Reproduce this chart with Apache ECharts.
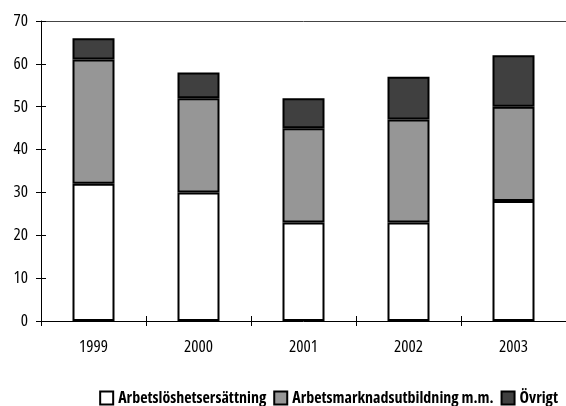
<!DOCTYPE html>
<html>
<head>
<meta charset="utf-8">
<script src="https://cdn.jsdelivr.net/npm/echarts@6/dist/echarts.min.js"></script>
<style>
  html, body { margin: 0; padding: 0; background: #fff; }
  #chart { width: 566px; height: 406px; }
</style>
</head>
<body>
<div id="chart"></div>
<script>
// Years on the category axis
const years = ['1999', '2000', '2001', '2002', '2003'];

// Stacked components per year
const arbetsloshet = [32, 30, 23, 23, 28];
const arbetsmarknad = [29, 22, 22, 24, 22];
const ovrigt = [5, 6, 7, 10, 12];

const seriesNames = ['Arbetslöshetsersättning', 'Arbetsmarknadsutbildning m.m.', 'Övrigt'];
const seriesColors = ['#ffffff', '#969696', '#404040'];
const seriesData = [arbetsloshet, arbetsmarknad, ovrigt];

// Narrow face: the font-stretch keyword rides along in the weight slot of the canvas font string
const textFont = '"Open Sans", sans-serif';

const chart = echarts.init(document.getElementById('chart'), null, { renderer: 'canvas' });

const yBase = { type: 'value', min: 0, max: 70, interval: 10, splitLine: { show: false } };
const xBase = { type: 'category', data: years, boundaryGap: true };

chart.setOption({
  animation: false,
  backgroundColor: '#ffffff',
  grid: { left: 41, right: 0, top: 21, bottom: 85, containLabel: false },
  legend: {
    right: 8,
    bottom: 0,
    padding: 0,
    itemWidth: 13,
    itemHeight: 13,
    itemGap: 7,
    icon: 'rect',
    data: seriesNames,
    textStyle: { fontFamily: textFont, fontWeight: 'bold condensed', fontSize: 16, color: '#000' }
  },
  xAxis: [
    Object.assign({}, xBase, {
      position: 'bottom',
      axisLine: { show: true, lineStyle: { color: '#000', width: 1 } },
      axisTick: { show: true, inside: false, length: 5, lineStyle: { color: '#000' } },
      axisLabel: { fontFamily: textFont, fontWeight: 'normal condensed', fontSize: 17, color: '#000', margin: 18 }
    }),
    Object.assign({}, xBase, {
      position: 'bottom',
      axisLine: { show: false },
      axisTick: { show: true, inside: true, length: 5, lineStyle: { color: '#000' } },
      axisLabel: { show: false }
    }),
    Object.assign({}, xBase, {
      position: 'top',
      axisLine: { show: true, lineStyle: { color: '#444', width: 1 } },
      axisTick: { show: false },
      axisLabel: { show: false }
    })
  ],
  yAxis: [
    Object.assign({}, yBase, {
      position: 'left',
      axisLine: { show: true, lineStyle: { color: '#000', width: 1 } },
      axisTick: { show: true, inside: false, length: 5, lineStyle: { color: '#000' } },
      axisLabel: { fontFamily: textFont, fontWeight: 'normal condensed', fontSize: 17, color: '#000', margin: 13 }
    }),
    Object.assign({}, yBase, {
      position: 'left',
      axisLine: { show: false },
      axisTick: { show: true, inside: true, length: 5, lineStyle: { color: '#000' } },
      axisLabel: { show: false }
    })
  ],
  series: seriesNames.map((name, i) => ({
    name: name,
    type: 'bar',
    stack: 'total',
    xAxisIndex: 0,
    yAxisIndex: 0,
    barWidth: '40%',
    data: seriesData[i],
    itemStyle: { color: seriesColors[i], borderColor: '#000', borderWidth: 2 }
  }))
});
</script>
</body>
</html>
